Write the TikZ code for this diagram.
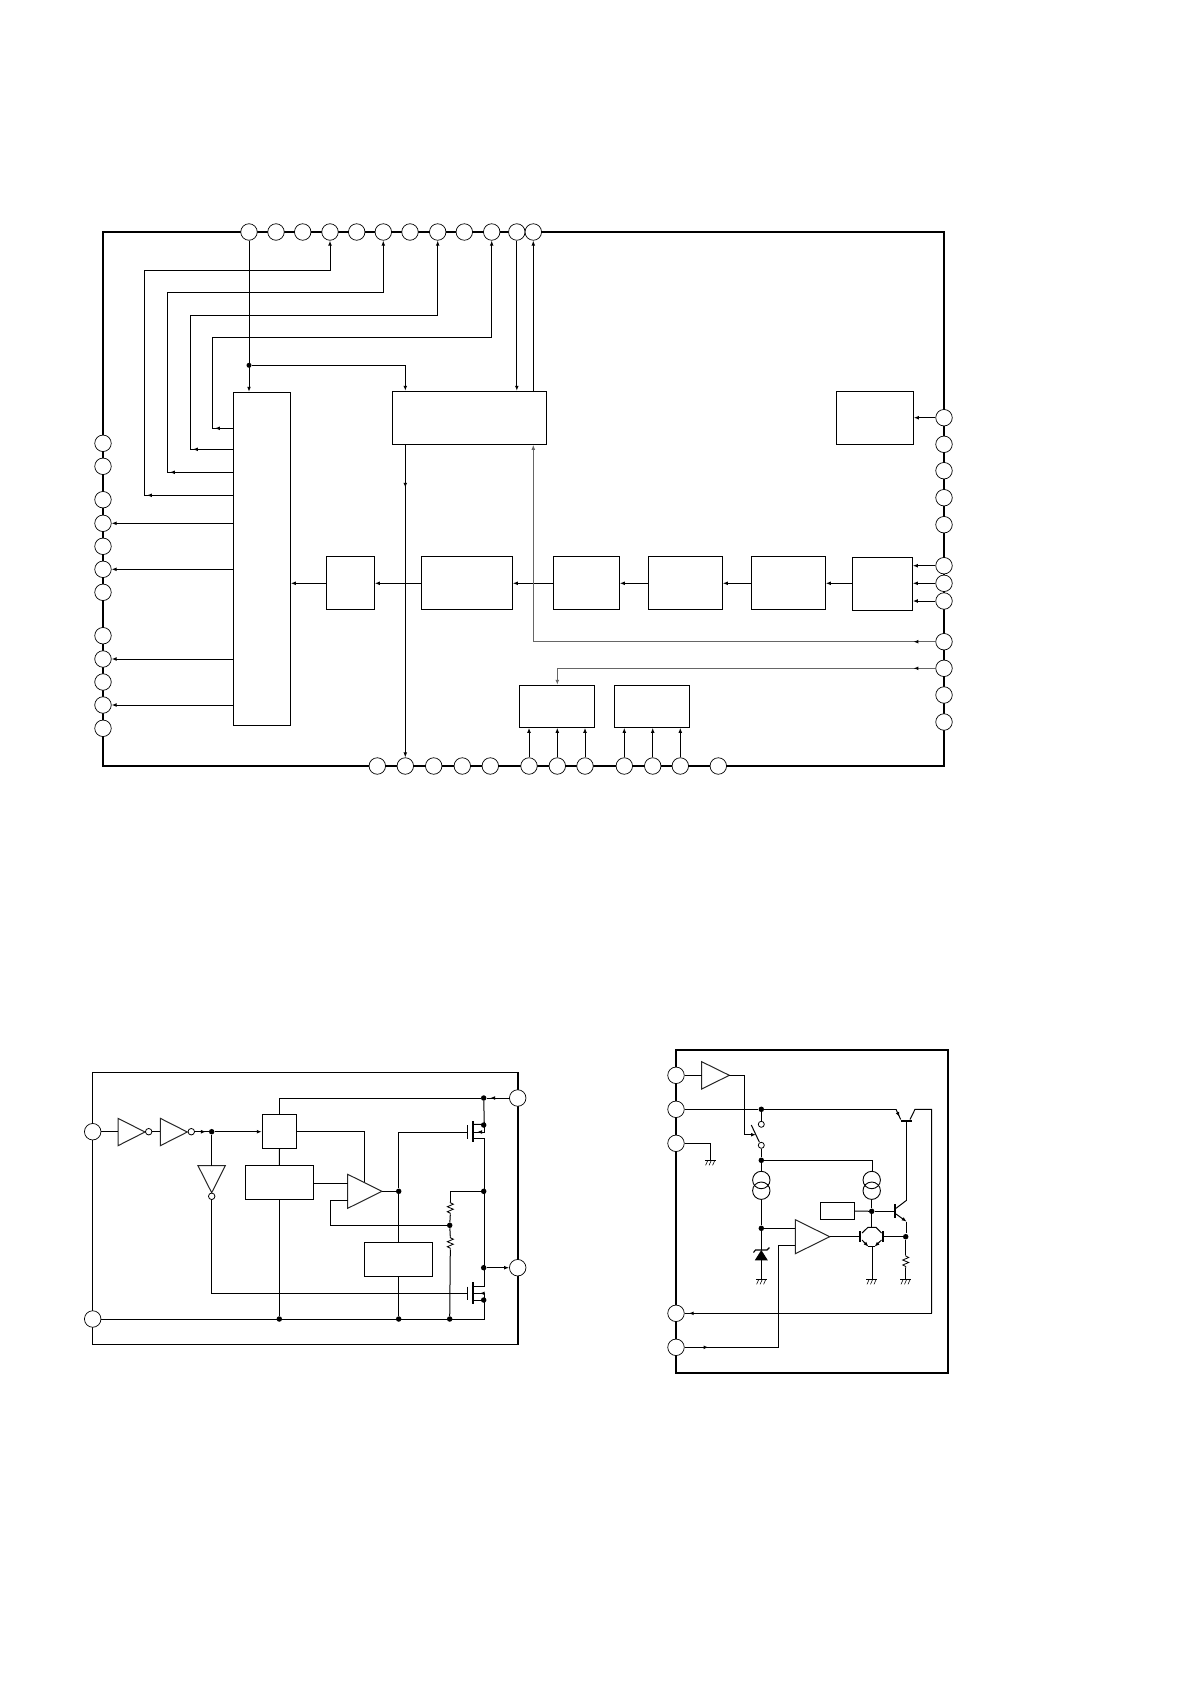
\documentclass[tikz,border=0pt]{standalone}
\usetikzlibrary{arrows.meta,fit,decorations.markings}
\tikzset{
  x=1pt,y=-1pt,
  >={Latex[length=5pt,width=3.8pt]},
  wire/.style={line width=1pt,line join=miter},
  graywire/.style={line width=1.1pt,draw=black!60},
  frameline/.style={line width=1.8pt},
  thickbar/.style={line width=1.8pt},
  pin/.style={circle,draw,fill=white,line width=0.7pt,minimum size=16.5pt,inner sep=0pt},
  boxn/.style={draw,line width=1pt,inner sep=0pt,rectangle},
  dotn/.style={circle,fill=black,minimum size=5.5pt,inner sep=0pt},
  bub/.style={circle,draw,fill=white,line width=0.8pt,minimum size=6.5pt,inner sep=0pt},
  tipat/.style={postaction={decorate,decoration={markings,mark=at position #1 with {\arrow{Latex[length=5pt,width=3.8pt,color=black]}}}}},
  tria/.style={line width=1pt,draw=black!85,line join=miter},
  gnd/.pic={\draw[line width=0.8pt] (-5.5,0)--(5.5,0);
    \foreach \hx in {-2.5,1,4.5}{\draw[line width=0.6pt] (\hx,0)--(\hx-2.2,5);}},
  resv/.pic={\draw[line width=0.8pt] (0,0)--(0,1)--(3,2.5)--(-3,5)--(3,7.5)--(-3,10)--(0,11.5)--(0,13);},
}
\newcommand\bx[5]{\node[boxn,fit={(#2,#3)(#4,#5)}] (#1) {};}
\begin{document}
\begin{tikzpicture}
\useasboundingbox (0,0) rectangle (1190,1684);
\fill[white] (0,0) rectangle (1190,1684);

% ---------- main diagram ----------
\draw[frameline] (103,232) rectangle (944,766);
\foreach \n/\x in {1/249,2/276,3/302.7,4/330,5/356.7,6/383.3,7/410,8/437.7,9/464.3,10/491.7,11/516.8,12/533.3}
  \node[pin] (T\n) at (\x,232) {};
\foreach \n/\y in {1/443.3,2/466.3,3/499.7,4/523.3,5/546.3,6/569.3,7/592.3,8/635.7,9/659,10/682,11/705,12/728.3}
  \node[pin] (L\n) at (103,\y) {};
\foreach \n/\y in {1/417.7,2/444.3,3/470.7,4/497.7,5/524.7,6/565.7,7/583.3,8/601,9/641.7,10/668.3,11/695,12/722}
  \node[pin] (R\n) at (944,\y) {};
\foreach \n/\x in {1/377.3,2/405.3,3/433.7,4/462.3,5/490.3,6/529,7/557.3,8/585,9/624.3,10/652.7,11/680.3,12/718.3}
  \node[pin] (B\n) at (\x,766) {};

\bx{chip}{233.3}{392.3}{290.3}{725.3}
\bx{boxtop}{392.3}{391.3}{546.3}{444.3}
\bx{boxtr}{836.3}{391.3}{913.3}{444.3}
\bx{boxa}{326.3}{556.3}{374.3}{609.3}
\bx{boxb}{421.3}{556.3}{512.3}{609.3}
\bx{boxc}{553.3}{556.3}{619.3}{609.3}
\bx{boxd}{648.3}{556.3}{722.3}{609.3}
\bx{boxe}{751.3}{556.3}{825.3}{609.3}
\bx{boxf}{852.3}{557.3}{912.3}{610.3}
\bx{boxg}{519.3}{685.3}{594.3}{727.3}
\bx{boxh}{614.3}{685.3}{689.3}{727.3}

\draw[wire,->,tipat=86pt] (chip.west |- 0,495.3) -- (144.3,495.3) -- (144.3,270.3) -- (T4 |- 0,270.3) -- (T4);
\draw[wire,->,tipat=63pt] (chip.west |- 0,472.3) -- (167.3,472.3) -- (167.3,292.3) -- (T6 |- 0,292.3) -- (T6);
\draw[wire,->,tipat=40pt] (chip.west |- 0,449.3) -- (190.3,449.3) -- (190.3,315.3) -- (T8 |- 0,315.3) -- (T8);
\draw[wire,->,tipat=18pt] (chip.west |- 0,428.3) -- (212.3,428.3) -- (212.3,337.3) -- (T10 |- 0,337.3) -- (T10);

\draw[wire,->] (T1) -- (T1 |- chip.north);
\node[dotn,minimum size=5pt] (dtop) at (T1 |- 0,365.3) {};
\draw[wire,->] (dtop) -- (B2 |- dtop) -- (B2 |- boxtop.north);
\draw[wire,->] (T11) -- (T11 |- boxtop.north);
\draw[wire,->] (T12 |- boxtop.north) -- (T12);
\draw[wire,->,tipat=43pt] (B2 |- boxtop.south) -- (B2);

\draw[wire,->] (chip.west |- L4) -- (L4);
\draw[wire,->] (chip.west |- L6) -- (L6);
\draw[wire,->] (chip.west |- L9) -- (L9);
\draw[wire,->] (chip.west |- L11) -- (L11);

\draw[wire,->] (boxa.west |- R7) -- (chip.east |- R7);
\draw[wire,->] (boxb.west |- R7) -- (boxa.east |- R7);
\draw[wire,->] (boxc.west |- R7) -- (boxb.east |- R7);
\draw[wire,->] (boxd.west |- R7) -- (boxc.east |- R7);
\draw[wire,->] (boxe.west |- R7) -- (boxd.east |- R7);
\draw[wire,->] (boxf.west |- R7) -- (boxe.east |- R7);
\draw[wire,->] (R6) -- (boxf.east |- R6);
\draw[wire,->] (R7) -- (boxf.east |- R7);
\draw[wire,->] (R8) -- (boxf.east |- R8);
\draw[wire,->] (R1) -- (boxtr.east |- R1);

\draw[graywire,->,tipat=22pt] (R9) -- (T12 |- R9) -- (T12 |- boxtop.south);
\draw[graywire,->,tipat=22pt] (R10) -- (B7 |- R10) -- (B7 |- boxg.north);

\draw[wire,->] (B6) -- (B6 |- boxg.south);
\draw[wire,->] (B7) -- (B7 |- boxg.south);
\draw[wire,->] (B8) -- (B8 |- boxg.south);
\draw[wire,->] (B9) -- (B9 |- boxh.south);
\draw[wire,->] (B10) -- (B10 |- boxh.south);
\draw[wire,->] (B11) -- (B11 |- boxh.south);

% ---------- lower left diagram ----------
\draw[line width=1pt] (518.3,1072.7) -- (92.3,1072.7) -- (92.3,1344.3) -- (518.3,1344.3);
\draw[frameline] (518.3,1072) -- (518.3,1345);
\node[pin] (pa) at (92.7,1131.7) {};
\node[pin] (pb) at (92.7,1319) {};
\node[pin] (pc) at (517.7,1098) {};
\node[pin] (pd) at (517.7,1267.7) {};

\bx{ba}{262.3}{1114.3}{296.7}{1148.7}
\bx{bb}{245.3}{1165.3}{313.3}{1199.3}
\bx{bc}{364.3}{1242.3}{432.3}{1276.7}

\coordinate (inv1i) at (118,1131.7);
\coordinate (inv2i) at (160.3,1131.7);
\coordinate (inv3i) at (211.7,1165.7);
\coordinate (ampa) at (347.7,1183.3);
\coordinate (ampb) at (347.7,1200.3);
\coordinate (ampo) at (382,1191.3);
\draw[tria] (118,1118.3) -- (118,1145.7) -- (145,1132) -- cycle;
\draw[tria] (160.3,1118.3) -- (160.3,1145.7) -- (187.3,1132) -- cycle;
\draw[tria] (198,1165.7) -- (225.3,1165.7) -- (211.7,1192.7) -- cycle;
\draw[tria] (347.7,1174.3) -- (347.7,1208.3) -- (382,1191.3) -- cycle;
\node[bub] (b1) at (148.7,1131.7) {};
\node[bub] (b2) at (191.3,1131.7) {};
\node[bub] (b3) at (211.7,1196.3) {};

\node[dotn] (da) at (211.7,1131.7) {};
\node[dotn] (db) at (483.7,1098) {};
\node[dotn] (dc) at (483.7,1125) {};
\node[dotn] (dd) at (483.7,1191.3) {};
\node[dotn] (de) at (483.7,1267.7) {};
\node[dotn] (df) at (483.7,1300) {};
\node[dotn] (dg) at (398.7,1191.3) {};
\node[dotn] (dh) at (449.7,1225.3) {};
\node[dotn] (di) at (279.3,1319) {};
\node[dotn] (dj) at (398.7,1319) {};
\node[dotn] (dk) at (449.7,1319) {};

\draw[wire] (pa) -- (inv1i);
\draw[wire] (b1) -- (inv2i);
\draw[wire,tipat=11pt] (b2) -- (da);
\draw[wire,->] (da) -- (ba.west |- da);
\draw[wire] (da) -- (inv3i);
\draw[wire,tipat=19pt] (pc) -- (db);
\draw[wire] (db) -- (ba.north |- db) -- (ba.north);
\draw[wire] (ba.south) -- (bb.north);
\draw[wire] (bb.south) -- (di);
\draw[wire] (ba.east) -- (364.7,1131.5) -- (364.7,1182);
\draw[wire] (bb.east |- ampa) -- (ampa);
\draw[wire] (ampo) -- (dg);
\draw[wire] (dg) -- (dg |- 0,1132.3) -- (467.3,1132.3);
\draw[wire] (dg) -- (dg |- bc.north);
\draw[wire] (dg |- bc.south) -- (dj);
\draw[wire] (ampb) -- (330.3,1200.3) -- (330.3,1225.3) -- (dh);
\draw[wire] (dd) -- (450.3,1191.3) -- (450.3,1201.7);
\pic at (450.3,1201.7) {resv};
\draw[wire] (450.3,1214.7) -- (dh);
\draw[wire] (dh) -- (450.3,1236.7);
\pic at (450.3,1236.7) {resv};
\draw[wire] (450.3,1249.7) -- (dk);
\draw[wire] (pb) -- (484.3,1319) -- (484.3,1300);
\draw[wire] (b3) -- (211.7,1293.3) -- (467.3,1293.3);
\draw[wire] (db) -- (484.3,1124.3) -- (472.7,1124.3);
\draw[wire] (472.7,1138.7) -- (484.3,1138.7) -- (484.3,1286.3) -- (472.7,1286.3);
\draw[wire] (472.7,1300) -- (484.3,1300);
\draw[wire,->] (de) -- (pd);
% MOSFETs
\draw[line width=1pt] (467.3,1125) -- (467.3,1139);
\draw[thickbar] (472.7,1121) -- (472.7,1142.3);
\draw[wire,tipat=14pt] (484,1125) -- (484,1132) -- (472.7,1132);
\draw[line width=1pt] (467.3,1286.7) -- (467.3,1300);
\draw[thickbar] (472.7,1282.3) -- (472.7,1304.3);
\draw[wire,tipat=11pt] (484,1300) -- (484,1293.3) -- (472.7,1293.3);

% ---------- lower right diagram ----------
\draw[frameline] (675.7,1049.7) rectangle (948.3,1372.7);
\node[pin] (qa) at (676,1075.3) {};
\node[pin] (qb) at (676,1109.3) {};
\node[pin] (qc) at (676,1143.3) {};
\node[pin] (qd) at (676,1313.3) {};
\node[pin] (qe) at (676,1347.3) {};

\bx{bref}{820.3}{1202.3}{854.7}{1219.7}

\coordinate (bufi) at (701.7,1075.3);
\coordinate (bufo) at (729.3,1075.3);
\coordinate (opa) at (795.3,1228.3);
\coordinate (opb) at (795.3,1245.3);
\coordinate (opo) at (829.7,1236.7);
\draw[tria] (701.7,1061.7) -- (701.7,1089) -- (729.3,1075.3) -- cycle;
\draw[tria] (795.3,1219.7) -- (795.3,1253.7) -- (829.7,1236.7) -- cycle;

\node[dotn] (ea) at (761.3,1109.3) {};
\node[dotn] (eb) at (761.3,1160.3) {};
\node[dotn] (ec) at (761.3,1228.3) {};
\node[dotn] (ed) at (871.7,1211.3) {};
\node[dotn] (ee) at (905.7,1236.7) {};
\node[bub,minimum size=6pt] (sa) at (761.3,1124.3) {};
\node[bub,minimum size=6pt] (sb) at (761.3,1145.3) {};

\draw[wire] (qa) -- (bufi);
\draw[wire,->] (bufo) -- (744,1075.3) -- (744,1134.7) -- (756,1134.7);
\draw[wire] (qb) -- (ea);
\draw[wire] (ea) -- (896,1109.3);
\draw[wire,tipat=8.5pt] (896,1109.3) -- (900.7,1119.5);
\draw[wire] (ea) -- (sa);
\draw[wire] (sb) -- (eb);
\draw[wire] (759.3,1142) -- (751.3,1125);
\draw[wire] (eb) -- (872.3,1160.3) -- (872.3,1171.3);
\draw[wire] (qc) -- (710.3,1143.3) -- (710.3,1160.3);
\pic at (710.3,1160.3) {gnd};
% current sources
\draw[line width=0.9pt] (761.3,1180) circle (8.7);
\draw[line width=0.9pt] (761.3,1190.7) circle (8.7);
\draw[line width=0.9pt] (871.7,1180) circle (8.7);
\draw[line width=0.9pt] (871.7,1190.7) circle (8.7);
\draw[wire] (eb) -- (761.3,1171.3);
\draw[wire] (761.3,1199.4) -- (ec);
\draw[wire] (871.7,1199.4) -- (ed);
% zener
\draw[wire] (ec) -- (761.3,1250);
\fill (761.3,1250) -- (754.8,1260.3) -- (767.8,1260.3) -- cycle;
\draw[line width=1.1pt] (753.5,1252.5) -- (755.5,1250) -- (767,1250) -- (769.5,1247.5);
\draw[wire] (761.3,1260) -- (761.3,1279.3);
\pic at (761.3,1279.3) {gnd};
% op amp
\draw[wire] (ec) -- (opa);
\draw[wire,tipat=24pt] (qe) -- (778.7,1347.3) -- (778.7,1245.3) -- (opb);
\draw[wire] (opo) -- (859.7,1236.7);
% transistor to feedback
\draw[wire] (906,1200.7) -- (906,1121);
\draw[thickbar] (900.7,1120.7) -- (911.7,1120.7);
\draw[wire] (910,1119.5) -- (915,1109.3) -- (931.7,1109.3) -- (931.7,1313.3);
\draw[wire,tipat=243pt] (931.7,1313.3) -- (qd);
% NPN
\draw[wire] (bref.east) -- (ed);
\draw[wire] (ed) -- (895,1211.3);
\draw[thickbar] (895,1204.3) -- (895,1217.7);
\draw[wire] (896,1208.3) -- (906,1200.7);
\draw[wire] (906,1221.7) -- (906,1233);
\draw[wire,->] (896,1214) -- (906.7,1221.7);
\draw[wire] (ee) -- (905.7,1255);
\pic at (905.7,1255) {resv};
\draw[wire] (905.7,1268) -- (905.7,1279.3);
\pic at (905.7,1279.3) {gnd};
% mirror pair
\draw[thickbar] (859.7,1231) -- (859.7,1242);
\draw[thickbar] (882.7,1231) -- (882.7,1242);
\draw[wire] (ed) -- (871.7,1227.3);
\draw[wire] (862,1233) -- (868,1227.3) -- (876,1227.3) -- (881.5,1233);
\draw[wire,->] (862,1240) -- (868.5,1246.7);
\draw[wire,->] (881.5,1240) -- (874.5,1246.7);
\draw[wire] (868,1246.7) -- (875,1246.7);
\draw[wire] (872.3,1246.7) -- (872.3,1279.3);
\pic at (871.7,1279.3) {gnd};
\draw[wire] (882.7,1236.7) -- (ee);
\end{tikzpicture}
\end{document}
